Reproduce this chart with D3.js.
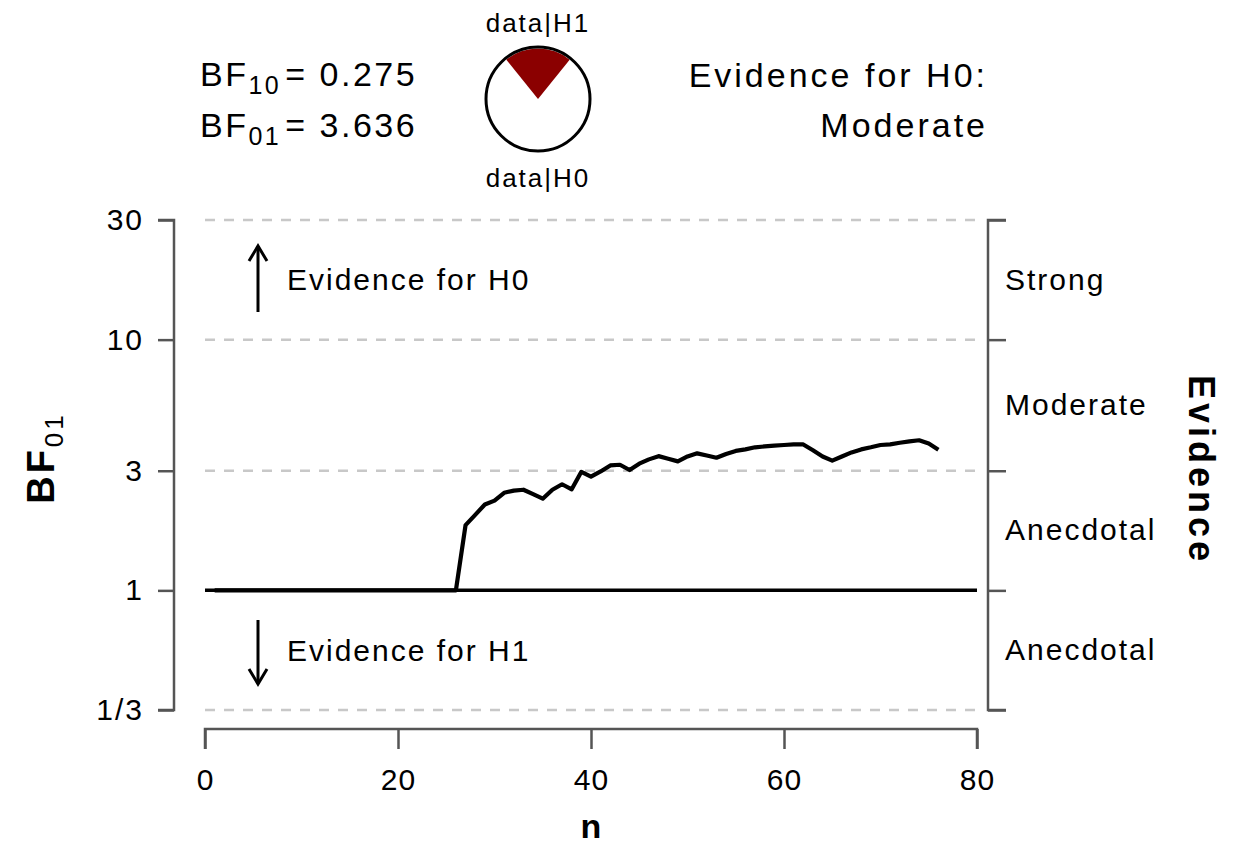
<!DOCTYPE html>
<html><head><meta charset="utf-8">
<script src="https://cdn.jsdelivr.net/npm/d3@7"></script>
<style>body{margin:0;background:#fff;} text{font-family:"Liberation Sans",Arial,sans-serif;}</style>
</head><body><svg id="c" width="1237" height="849"></svg>
<script>
// ---- data ----
const nValues = d3.range(1, 77);
const bf01Values = [
  1,1,1,1,1,1,1,1,1,1,1,1,1,1,1,1,1,1,1,1,1,1,1,1,1,1,
  1.82,2.0,2.2,2.28,2.45,2.5,2.52,2.42,2.32,2.52,2.65,2.53,2.97,2.84,
  2.98,3.15,3.17,3.02,3.2,3.33,3.43,3.35,3.27,3.42,3.52,3.45,3.38,3.5,
  3.6,3.65,3.72,3.75,3.78,3.8,3.82,3.82,3.62,3.42,3.29,3.42,3.55,3.65,
  3.72,3.8,3.82,3.88,3.93,3.97,3.85,3.636
];
const yTickValues = [1/3, 1, 3, 10, 30];
const yTickLabels = ["1/3", "1", "3", "10", "30"];
const xTickValues = [0, 20, 40, 60, 80];
const dashedLevels = [1/3, 3, 10, 30];
const evidenceLabels = ["Strong", "Moderate", "Anecdotal", "Anecdotal"];
const evidenceMid = [Math.sqrt(10*30), Math.sqrt(3*10), Math.sqrt(1*3), Math.sqrt(1/3)];
const bf10 = 0.275, bf01 = 3.636;
const evidenceWord = "Moderate";

const svg = d3.select("#c");
const x = d3.scaleLinear().domain([0, 80]).range([205, 977]);
const y = d3.scaleLog().domain([1/3, 30]).range([710, 220]);
const FS = 30, LS = 2;
const FF = '"Liberation Sans",Arial,sans-serif';

// grid
svg.selectAll(".dash").data(dashedLevels).join("line")
  .attr("x1", x(0)).attr("x2", x(80)).attr("y1", d=>y(d)).attr("y2", d=>y(d))
  .attr("stroke", "#c8c8c8").attr("stroke-width", 2.5).attr("stroke-dasharray", "10,9");
svg.append("line").attr("x1", x(0)).attr("x2", x(80)).attr("y1", y(1)).attr("y2", y(1))
  .attr("stroke", "#000").attr("stroke-width", 3.5);

// left axis
const yAxis = d3.axisLeft(y).tickValues(yTickValues).tickFormat((d,i)=>yTickLabels[i]).tickSize(16).tickPadding(14);
const gl = svg.append("g").attr("transform", "translate(174,0)").call(yAxis);
gl.select(".domain").attr("stroke", "#555").attr("stroke-width", 2.5).attr("d", `M-16,${y(30)}H0V${y(1/3)}H-16`);
gl.selectAll(".tick line").attr("stroke", "#555").attr("stroke-width", 2.5);
gl.selectAll(".tick text").style("font-size", FS+"px").style("letter-spacing", LS+"px").attr("fill", "#000").style("font-family", FF);

// right axis
const yAxisR = d3.axisRight(y).tickValues(yTickValues).tickFormat("").tickSize(18);
const gr = svg.append("g").attr("transform", "translate(988,0)").call(yAxisR);
gr.select(".domain").attr("stroke", "#555").attr("stroke-width", 2.5).attr("d", `M18,${y(30)}H0V${y(1/3)}H18`);
gr.selectAll(".tick line").attr("stroke", "#555").attr("stroke-width", 2.5);

// x axis
const xAxis = d3.axisBottom(x).tickValues(xTickValues).tickSize(20).tickPadding(20);
const gx = svg.append("g").attr("transform", "translate(0,729)").call(xAxis);
gx.select(".domain").attr("stroke", "#555").attr("stroke-width", 2.5).attr("d", `M${x(0)},20V0H${x(80)}V20`);
gx.selectAll(".tick line").attr("stroke", "#555").attr("stroke-width", 2.5);
gx.selectAll(".tick text").style("font-size", FS+"px").style("letter-spacing", "1px").attr("fill", "#000").style("font-family", FF);

// data line
const line = d3.line().x((d,i)=>x(nValues[i])).y(d=>y(d));
svg.append("path").datum(bf01Values).attr("d", line).attr("fill", "none")
  .attr("stroke", "#000").attr("stroke-width", 4.2).attr("stroke-linejoin", "round");

// evidence labels right
svg.selectAll(".ev").data(evidenceLabels).join("text")
  .attr("x", 1005).attr("y", (d,i)=>y(evidenceMid[i])).attr("dy", "0.33em")
  .style("font-size", FS+"px").style("letter-spacing", LS+"px").text(d=>d);

// axis titles
svg.append("text").attr("transform", "translate(1189,470) rotate(90)").attr("text-anchor", "middle")
  .style("font-size", "36px").style("font-weight", "bold").style("letter-spacing", "4px").text("Evidence");
const yl = svg.append("text").attr("transform", "translate(54,458) rotate(-90)").attr("text-anchor", "middle")
  .style("font-size", "38px").style("font-weight", "bold").style("letter-spacing", "3px");
yl.append("tspan").text("BF");
yl.append("tspan").attr("dy", 9).style("font-size", "26px").style("font-weight", "normal").text("01");
svg.append("text").attr("x", x(40)).attr("y", 838).attr("text-anchor", "middle")
  .style("font-size", "34px").style("font-weight", "bold").text("n");

// arrows
function arrow(x0, y0, y1) {
  svg.append("line").attr("x1", x0).attr("x2", x0).attr("y1", y0).attr("y2", y1).attr("stroke", "#000").attr("stroke-width", 3);
  const s = y1 < y0 ? 1 : -1;
  svg.append("path").attr("d", `M${x0-9},${y1+s*15}L${x0},${y1}L${x0+9},${y1+s*15}`)
    .attr("fill", "none").attr("stroke", "#000").attr("stroke-width", 3);
}
arrow(258, 312, 246);
arrow(258, 620, 684);
svg.append("text").attr("x", 287).attr("y", 279).attr("dy", "0.35em").style("font-size", FS+"px").style("letter-spacing", LS+"px").text("Evidence for H0");
svg.append("text").attr("x", 287).attr("y", 650).attr("dy", "0.35em").style("font-size", FS+"px").style("letter-spacing", LS+"px").text("Evidence for H1");

// top BF text
function bfText(yy, sub, val) {
  const t = svg.append("text").attr("x", 200).attr("y", yy).style("font-size", "34px").style("letter-spacing", "2.5px");
  t.append("tspan").text("BF");
  t.append("tspan").attr("dy", 8).style("font-size", "25px").text(sub);
  t.append("tspan").attr("dy", -8).attr("dx", 4).text("= " + val.toFixed(3));
}
bfText(86, "10", bf10);
bfText(137, "01", bf01);

// pie
const pH1 = bf10 / (1 + bf10);
const cx = 538, cy = 99, r = 52;
svg.append("circle").attr("cx", cx).attr("cy", cy).attr("r", r).attr("fill", "#fff");
const arc = d3.arc().innerRadius(0).outerRadius(r - 1.5);
const a = pH1 * Math.PI;
svg.append("path").attr("transform", `translate(${cx},${cy})`)
  .attr("d", arc({startAngle: -a, endAngle: a})).attr("fill", "#8b0000");
svg.append("circle").attr("cx", cx).attr("cy", cy).attr("r", r).attr("fill", "none").attr("stroke", "#000").attr("stroke-width", 3);
svg.append("text").attr("x", cx).attr("y", 32).attr("text-anchor", "middle").style("font-size", "26px").style("letter-spacing", "2px").text("data|H1");
svg.append("text").attr("x", cx).attr("y", 187).attr("text-anchor", "middle").style("font-size", "26px").style("letter-spacing", "2px").text("data|H0");

svg.append("text").attr("x", 988).attr("y", 87).attr("text-anchor", "end").style("font-size", "34px").style("letter-spacing", "3px").text("Evidence for H0:");
svg.append("text").attr("x", 988).attr("y", 137).attr("text-anchor", "end").style("font-size", "34px").style("letter-spacing", "3px").text(evidenceWord);
</script></body></html>
